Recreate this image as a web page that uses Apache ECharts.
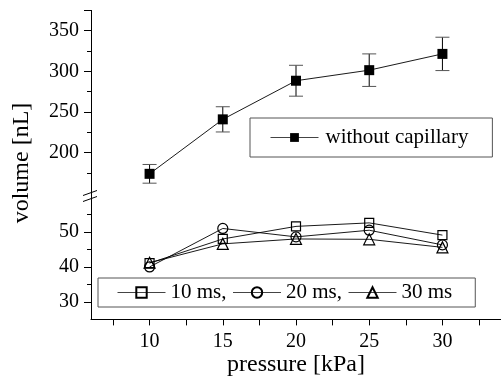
<!DOCTYPE html>
<html><head><meta charset="utf-8">
<script src="https://cdn.jsdelivr.net/npm/echarts@6/dist/echarts.min.js"></script>
<style>html,body{margin:0;padding:0;background:#fff}#c{width:501px;height:378px}</style>
</head><body><div id="c"></div>
<script>
const pressure = [10, 15, 20, 25, 30];
const withoutCapillary = [174, 241, 288.5, 301.5, 321.5];
const withoutCapillaryErr = [11.5, 15.5, 19, 20, 20.5];
const ms10 = [41.1, 48.0, 51.6, 52.6, 49.1];
const ms20 = [40.0, 51.0, 48.6, 50.5, 46.3];
const ms30 = [41.2, 46.6, 48.0, 47.9, 45.6];
const xTickLabels = [10, 15, 20, 25, 30];
const xTicks = [7.5, 10, 12.5, 15, 17.5, 20, 22.5, 25, 27.5, 30, 32.5];
const upperMajor = [200, 250, 300, 350];
const upperMajorTicks = [200, 250, 300, 350, 375];
const upperMinor = [175, 225, 275, 325];
const lowerMajor = [30, 40, 50];
const lowerMinor = [35, 45, 55];

const FONT = "'Liberation Serif', 'Times New Roman', serif";
const chart = echarts.init(document.getElementById('c'), null, {renderer: 'canvas'});

function yAx(grid, min, max, ticks, labels, len, showLine) {
  return {
    type: 'value', gridIndex: grid, min: min, max: max, position: 'left',
    axisLine: {show: showLine, lineStyle: {color: '#000', width: 1}},
    axisTick: {show: true, customValues: ticks, length: len, lineStyle: {color: '#000', width: 1}},
    axisLabel: labels ? {show: true, customValues: labels, margin: 12, color: '#000', fontFamily: FONT, fontSize: 20} : {show: false},
    splitLine: {show: false}
  };
}

const lowerNames = ['10 ms', '20 ms', '30 ms'];

chart.setOption({
  animation: false,
  backgroundColor: '#fff',
  grid: [
    {left: 91, width: 413, top: 10.4, height: 186.6},
    {left: 91, width: 413, top: 197, height: 122.4}
  ],
  xAxis: [
    {type: 'value', gridIndex: 0, min: 6, max: 34, show: false},
    {type: 'value', gridIndex: 1, min: 6, max: 34,
      axisLine: {show: true, lineStyle: {color: '#000', width: 1}},
      axisTick: {show: true, customValues: xTicks, length: 6, lineStyle: {color: '#000'}},
      axisLabel: {customValues: xTickLabels, margin: 12, color: '#000', fontFamily: FONT, fontSize: 20},
      splitLine: {show: false},
      name: 'pressure [kPa]', nameLocation: 'middle', nameGap: 32,
      nameTextStyle: {color: '#000', fontFamily: FONT, fontSize: 24}
    }
  ],
  yAxis: [
    yAx(0, 145.5, 375, upperMajorTicks, upperMajor, 7, true),
    yAx(0, 145.5, 375, upperMinor, null, 4, false),
    yAx(1, 25, 60, lowerMajor, lowerMajor, 7, true),
    yAx(1, 25, 60, lowerMinor, null, 4, false)
  ],
  legend: [
    {
      data: ['without capillary'], left: 250, top: 118, orient: 'horizontal',
      itemWidth: 48, itemHeight: 11, padding: [9, 24, 9, 20],
      borderColor: '#555', borderWidth: 1, backgroundColor: '#fff',
      lineStyle: {width: 1, color: '#444'},
      textStyle: {color: '#000', fontFamily: FONT, fontSize: 21, padding: [0, 0, 0, 2]}
    },
    {
      data: lowerNames, left: 98, top: 278, orient: 'horizontal',
      itemWidth: 48, itemHeight: 13, itemGap: 6, padding: [4, 23, 4, 19],
      borderColor: '#555', borderWidth: 1, backgroundColor: '#fff',
      lineStyle: {width: 1, color: '#444'},
      formatter: n => n === '30 ms' ? n : n + ',',
      textStyle: {color: '#000', fontFamily: FONT, fontSize: 21}
    }
  ],
  graphic: [
    {type: 'text', x: 22, y: 163, rotation: Math.PI / 2,
      style: {text: 'volume [nL]', fill: '#000', font: "24px 'Liberation Serif', serif", textAlign: 'center', textVerticalAlign: 'middle'}},
    {type: 'line', shape: {x1: 83, y1: 195.5, x2: 97, y2: 190.5}, style: {stroke: '#000', lineWidth: 1}},
    {type: 'line', shape: {x1: 83, y1: 201.5, x2: 97, y2: 196.5}, style: {stroke: '#000', lineWidth: 1}}
  ],
  series: [
    {
      type: 'custom', name: 'err', xAxisIndex: 0, yAxisIndex: 0, z: 1, silent: true,
      encode: {x: 0, y: [1, 2]},
      data: pressure.map((p, i) => [p, withoutCapillary[i] - withoutCapillaryErr[i], withoutCapillary[i] + withoutCapillaryErr[i]]),
      renderItem: (params, api) => {
        const x = api.value(0);
        const lo = api.coord([x, api.value(1)]);
        const hi = api.coord([x, api.value(2)]);
        const hw = 7;
        return {type: 'group', children: [
          {type: 'line', shape: {x1: lo[0], y1: lo[1], x2: hi[0], y2: hi[1]}, style: {stroke: '#000', lineWidth: 1}},
          {type: 'line', shape: {x1: hi[0] - hw, y1: hi[1], x2: hi[0] + hw, y2: hi[1]}, style: {stroke: '#555', lineWidth: 1}},
          {type: 'line', shape: {x1: lo[0] - hw, y1: lo[1], x2: lo[0] + hw, y2: lo[1]}, style: {stroke: '#555', lineWidth: 1}}
        ]};
      }
    },
    {
      type: 'line', name: 'without capillary', xAxisIndex: 0, yAxisIndex: 0, z: 3,
      data: pressure.map((p, i) => [p, withoutCapillary[i]]),
      symbol: 'rect', symbolSize: 10, itemStyle: {color: '#000'},
      lineStyle: {color: '#000', width: 0.9}
    },
    {
      type: 'line', name: '10 ms', xAxisIndex: 1, yAxisIndex: 2,
      data: pressure.map((p, i) => [p, ms10[i]]),
      symbol: 'rect', symbolSize: 9, itemStyle: {color: 'rgba(0,0,0,0)', borderColor: '#000', borderWidth: 1.2},
      lineStyle: {color: '#000', width: 0.9}
    },
    {
      type: 'line', name: '20 ms', xAxisIndex: 1, yAxisIndex: 2,
      data: pressure.map((p, i) => [p, ms20[i]]),
      symbol: 'circle', symbolSize: 10, itemStyle: {color: 'rgba(0,0,0,0)', borderColor: '#000', borderWidth: 1.2},
      lineStyle: {color: '#000', width: 0.9}
    },
    {
      type: 'line', name: '30 ms', xAxisIndex: 1, yAxisIndex: 2,
      data: pressure.map((p, i) => [p, ms30[i]]),
      symbol: 'triangle', symbolSize: 11, itemStyle: {color: 'rgba(0,0,0,0)', borderColor: '#000', borderWidth: 1.2},
      lineStyle: {color: '#000', width: 0.9}
    }
  ]
});
</script></body></html>
